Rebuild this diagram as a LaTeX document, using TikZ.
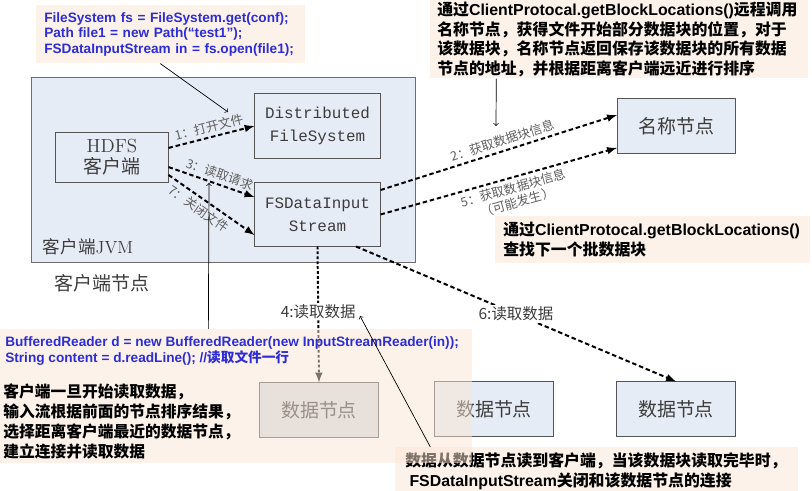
\documentclass[tikz,border=0pt]{standalone}
\usepackage{fontspec}
\usepackage[usenames,dvipsnames]{xcolor}
\usepackage{tikz}
\usetikzlibrary{arrows}
\newfontfamily\cjk{Noto Sans CJK SC}
\newfontfamily\arial{Liberation Sans}
\newfontfamily\cour{Liberation Mono}
\newcommand{\lat}[1]{{\arial #1}}
\definecolor{boxfill}{RGB}{230,236,245}
\definecolor{boxline}{RGB}{85,85,85}
\definecolor{dnfill}{RGB}{213,219,229}
\definecolor{notefill}{RGB}{251,229,211}
\definecolor{codeblue}{RGB}{45,45,215}
\definecolor{labelgray}{RGB}{95,95,95}
\definecolor{labeltext}{RGB}{60,60,60}

\tikzset{
  jvmbox/.style={draw=boxline!85, fill=boxfill, line width=0.7pt, minimum width=9.575cm, minimum height=4.6cm},
  sysbox/.style={draw=boxline, fill=boxfill, line width=0.7pt, align=center, inner sep=0pt, minimum width=3.125cm, text=labeltext, font=\fontsize{13.5}{15}\selectfont},
  datanode/.style={draw=boxline, fill=boxfill, line width=0.7pt, inner sep=0pt, minimum width=2.95cm, minimum height=1.35cm, text=labeltext, font=\cjk\fontsize{13.5}{16}\selectfont},
  notebox/.style={fill=notefill, fill opacity=0.5, text opacity=1, inner ysep=0pt, anchor=north west, align=left},
  codetext/.style={text=codeblue, font=\arial\bfseries\fontsize{9.7}{11}\selectfont},
  notetext/.style={text=black, font=\cjk\bfseries\fontsize{11.3}{13.9}\selectfont},
  flow/.style={-latex, line width=1.4pt, dash pattern=on 3.2pt off 2pt},
  steplabel/.style={sloped, text=labelgray, align=center, inner sep=2.5pt, font=\cjk\fontsize{9}{10.5}\selectfont},
  readlabel/.style={fill=white, text=labeltext, inner sep=1pt, font=\cjk\fontsize{11}{13}\selectfont},
  pointer/.style={->, line width=0.5pt}
}

\begin{document}
\begin{tikzpicture}[x=0.025cm, y=-0.025cm]
  \useasboundingbox (0,0) rectangle (812,491);

  % client node
  \draw (223.5,170) node[jvmbox] (jvm) {};
  \draw (38,254) node[anchor=base west, text=labeltext, font=\fontsize{12.5}{14}\selectfont] (jvmlabel) {{\cjk 客户端}JVM};
  \draw (102,283) node[text=labeltext, font=\cjk\fontsize{13.5}{16}\selectfont] (clientnode) {客户端节点};
  \draw (112,157.5) node[sysbox, minimum width=2.8cm, minimum height=1.225cm] (client) {HDFS\\{\cjk 客户端}};
  \draw (317.5,126) node[sysbox, minimum height=1.6cm, font=\cour\fontsize{11.3}{16.4}\selectfont] (dfs) {Distributed\\FileSystem};
  \draw (317.5,214.5) node[sysbox, minimum height=1.575cm, font=\cour\fontsize{11.3}{16.4}\selectfont] (instream) {FSDataInput\\Stream};

  % name node and data nodes
  \draw (676.5,126) node[datanode] (namenode) {名称节点};
  \draw (319,410) node[datanode, fill=dnfill] (datanode1) {数据节点};
  \draw (494,409) node[datanode] (datanode2) {数据节点};
  \draw (676,409) node[datanode] (datanode3) {数据节点};

  \path[flow] ([yshift=6.8pt]client.east) edge node[steplabel, above] {1：打开文件} (dfs.west);
  \path[flow] ([yshift=-6.8pt]client.east) edge node[steplabel, above, pos=0.56] {3：读取请求} ([yshift=12.4pt]instream.west);
  \path[flow] ([yshift=-12.4pt]client.east) edge node[steplabel, below, pos=0.42] {7：关闭文件} ([yshift=-14.6pt]instream.west);
  \path[flow] ([yshift=17.4pt]instream.east) edge node[steplabel, above, pos=0.53] {2：获取数据块信息} ([yshift=7.8pt]namenode.west);
  \path[flow] (instream.east) edge node[steplabel, below, pos=0.55] {5：获取数据块信息\\（可能发生）} ([yshift=-15.6pt]namenode.west);
  \path[flow, dash pattern=on 2pt off 1.5pt] (instream.south) edge node[readlabel, pos=0.48] {4:读取数据} (datanode1.north);
  \path[flow] ([xshift=27.4pt]instream.south) edge node[readlabel] {6:读取数据} (datanode3.north);

  % notes
  \draw (36,5) node[notebox, codetext, inner xsep=0.2cm, text width=6.325cm, minimum width=6.725cm, minimum height=1.45cm] (openbox)
    {FileSystem fs = FileSystem.get(conf);\\Path file1 = new Path(“test1”);\\FSDataInputStream in = fs.open(file1);};
  \draw (430,0) node[notebox, notetext, inner xsep=0.175cm, text width=9.1cm, minimum width=9.45cm, minimum height=1.95cm] (locatebox)
    {通过\lat{ClientProtocal.getBlockLocations()}远程调用\\名称节点，获得文件开始部分数据块的位置，对于\\该数据块，名称节点返回保存该数据块的所有数据\\节点的地址，并根据距离客户端远近进行排序};
  \draw (495,216) node[notebox, notetext, inner xsep=0.2cm, text width=7.475cm, minimum width=7.875cm, minimum height=1.175cm] (nextbox)
    {通过\lat{ClientProtocal.getBlockLocations()}\\查找下一个批数据块};
  \draw (395,447) node[notebox, notetext, inner xsep=0.25cm, text width=9.575cm, minimum width=10.075cm, minimum height=1.2cm] (closebox)
    {数据从数据节点读到客户端，当该数据块读取完毕时，\\\hspace{3pt}\lat{FSDataInputStream}关闭和该数据节点的连接};
  \draw (0,329) node[notebox, minimum width=11.8cm, minimum height=3.35cm] (readbox) {};
  \draw (5,336) node[codetext, anchor=north west, align=left, inner sep=0pt, font=\arial\bfseries\fontsize{9.7}{11.4}\selectfont] (readcode)
    {BufferedReader d = new BufferedReader(new InputStreamReader(in));\\String content = d.readLine(); //{\cjk 读取文件一行}};
  \draw (3,384) node[notetext, anchor=north west, align=left, inner sep=0pt, font=\cjk\bfseries\fontsize{11.2}{14.2}\selectfont] (readnote)
    {客户端一旦开始读取数据，\\输入流根据前面的节点排序结果，\\选择距离客户端最近的数据节点，\\建立连接并读取数据};

  % pointers
  \coordinate (opentip) at (228,112);
  \coordinate (locatetip) at (496,126);
  \coordinate (readtip) at (209,183);
  \coordinate (closetip) at (360,316);
  \draw[pointer] ([xshift=-7.5pt]openbox.south) -- (opentip);
  \draw[pointer] ([xshift=-87.5pt]locatebox.south) -- (locatetip);
  \draw[pointer] ([xshift=-19.9pt]readbox.north) -- (readtip);
  \draw[pointer] ([xshift=-118.4pt]closebox.north) -- (closetip);
\end{tikzpicture}
\end{document}
